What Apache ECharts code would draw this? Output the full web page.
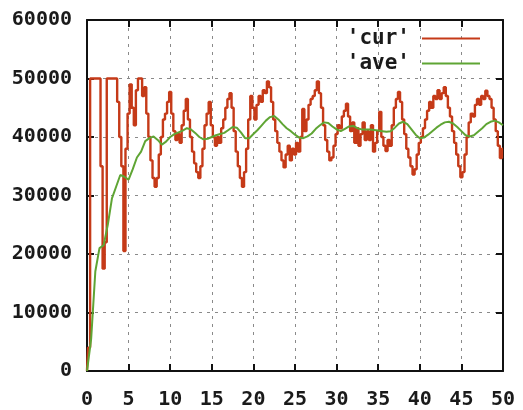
<!DOCTYPE html>
<html><head><meta charset="utf-8">
<script src="https://cdn.jsdelivr.net/npm/echarts@6/dist/echarts.min.js"></script>
<style>html,body{margin:0;padding:0;background:#fff}#c{width:523px;height:410px}</style>
</head><body><div id="c"></div>
<script>
// ---- data ----
const seriesNames = ["'cur'", "'ave'"];
const curStep = 0.25;
const curValues = [
  0,4000,50000,50000,50000,50000,50000,35000,17500,22000,
  50000,50000,50000,50000,50000,46000,40000,35000,20500,38000,
  44000,49000,45000,42000,48000,50000,50000,47000,48500,44000,
  40000,36000,33000,31500,33000,37000,40000,43000,44000,46000,
  47700,44000,41000,39500,40500,39000,42000,44500,46500,43000,
  40000,37500,35500,34000,33000,35000,38000,42000,44000,46000,
  42000,40000,38500,40000,39000,41500,43000,45000,46500,47500,
  45000,41000,37500,35000,33000,31500,34000,38000,43000,47000,
  45000,43000,45500,47000,46000,48000,47500,49500,48500,46000,
  43000,41000,39000,37500,36000,34800,37000,38500,36000,38000,
  37000,39000,37500,40000,44800,41000,43000,45500,46500,47000,
  48000,49500,47500,45000,42000,39500,37500,36000,36500,38500,
  40500,42000,41500,43500,44500,45700,43500,41000,42500,39000,
  41500,38500,40500,42500,39500,41000,39500,42000,37500,39000,
  41000,44300,40000,38500,37600,39500,38500,42000,45000,46500,
  47700,46000,43000,40500,38000,36500,35000,33600,34500,37000,
  39000,40000,41500,43000,44500,46000,45000,47000,46500,48000,
  46500,47500,48500,47000,45000,43500,41000,39000,37000,35000,
  33100,34000,37000,40000,42500,44000,43500,45500,46500,45500,
  47000,46500,47900,47000,46500,45000,43000,41000,38500,36400,
  38000
];
const aveStep = 0.5;
const aveValues = [
  0,5500,17000,21000,21500,25000,29500,31500,33500,33200,
  32700,34500,36500,37500,39300,39800,40100,39500,38700,39200,
  40000,40500,40800,41100,41500,41300,40700,40000,39600,39700,
  40000,40300,40500,40700,41200,41700,41600,40800,39800,39800,
  40500,41200,42000,42800,43400,43600,43000,42200,41500,41000,
  40400,39900,39800,40100,40600,41400,42000,42500,42400,41800,
  41300,41000,41400,41800,41900,41500,41300,41300,41300,41200,
  41100,41000,40900,41000,41600,42300,42600,42200,41300,40400,
  39800,39900,40400,41000,41600,42100,42500,42600,42300,41700,
  41000,40300,40100,40300,40900,41500,42200,42600,42800,42500,
  42000
];
const xRange = [0, 50, 5];
const yRange = [0, 60000, 10000];

const curData = curValues.map((v, i) => [i * curStep, v]);
const aveData = aveValues.map((v, i) => [i * aveStep, v]);

const FONT = "'DejaVu Sans Mono', monospace";
const labelStyle = { fontFamily: FONT, fontWeight: 'bold', fontSize: 20, color: '#1a1a1a',
  formatter: v => String(v) };
const gridLine = { show: true, lineStyle: { color: '#8a8a8a', width: 1, type: [3, 5] } };
const axLine = { show: true, onZero: false, lineStyle: { color: '#111', width: 2 } };
const tick = { show: true, inside: true, length: 7, lineStyle: { color: '#111', width: 2 } };

const chart = echarts.init(document.getElementById('c'), null, { renderer: 'canvas' });
chart.setOption({
  backgroundColor: '#fff',
  animation: false,
  grid: { left: 87, right: 20, top: 20, bottom: 33, containLabel: false },
  xAxis: [
    { type: 'value', min: xRange[0], max: xRange[1], interval: xRange[2], position: 'bottom',
      axisLine: axLine, axisTick: tick, splitLine: gridLine,
      axisLabel: Object.assign({ margin: 19 }, labelStyle) },
    { type: 'value', min: xRange[0], max: xRange[1], interval: xRange[2], position: 'top',
      axisLine: axLine, axisTick: tick, splitLine: { show: false }, axisLabel: { show: false } }
  ],
  yAxis: [
    { type: 'value', min: yRange[0], max: yRange[1], interval: yRange[2], position: 'left',
      axisLine: axLine, axisTick: tick, splitLine: gridLine,
      axisLabel: Object.assign({ margin: 15, padding: [0, 0, 0, 0], lineHeight: 20, verticalAlign: 'middle' }, labelStyle) },
    { type: 'value', min: yRange[0], max: yRange[1], interval: yRange[2], position: 'right',
      axisLine: axLine, axisTick: tick, splitLine: { show: false }, axisLabel: { show: false } }
  ],
  graphic: [],
  legend: {
    orient: 'vertical', align: 'right', right: 43, top: 28, padding: 0,
    icon: 'rect', itemWidth: 58, itemHeight: 2, itemGap: 4,
    textStyle: { fontFamily: FONT, fontWeight: 'bold', fontSize: 21, lineHeight: 20, color: '#1a1a1a', padding: [0, 7, 0, 0] },
    data: seriesNames
  },
  series: [
    { name: seriesNames[0], type: 'line', data: curData, step: 'middle', symbol: 'none',
      lineStyle: { color: '#c53a18', width: 2.4 }, itemStyle: { color: '#c53a18' }, z: 3 },
    { name: seriesNames[1], type: 'line', data: aveData, symbol: 'none',
      lineStyle: { color: '#5fa534', width: 2 }, itemStyle: { color: '#5fa534' }, z: 4 }
  ]
});
</script>
</body></html>
